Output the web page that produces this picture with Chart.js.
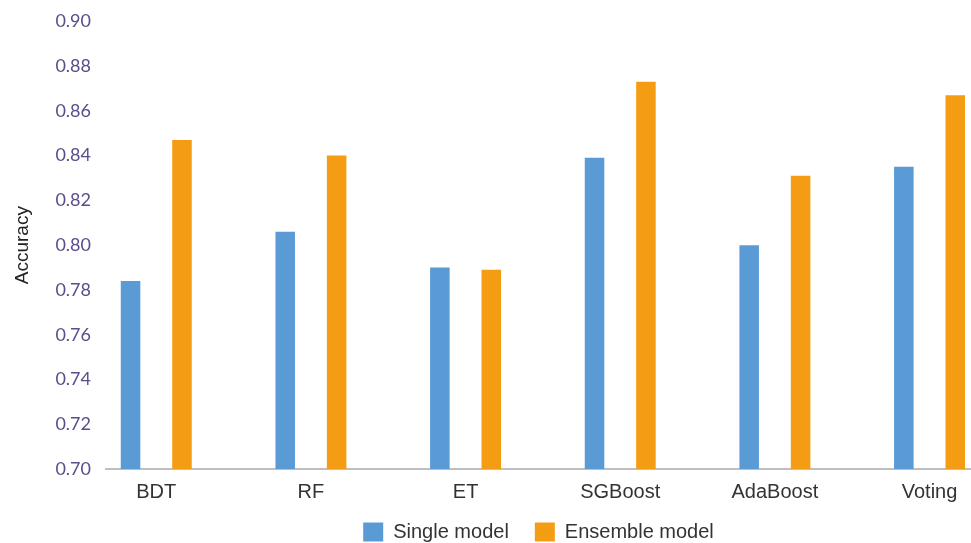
<!DOCTYPE html>
<html>
<head>
<meta charset="utf-8">
<script src="https://cdn.jsdelivr.net/npm/chart.js@4.4.0/dist/chart.umd.min.js"></script>
<style>
  html, body { margin: 0; padding: 0; background: #fff; overflow: hidden; }
  .chart { width: 971px; height: 552px; }
</style>
</head>
<body>
<div class="chart"><canvas id="chart"></canvas></div>
<script>
const models = ['BDT', 'RF', 'ET', 'SGBoost', 'AdaBoost', 'Voting'];
const singleModel = [0.784, 0.806, 0.790, 0.839, 0.800, 0.835];
const ensembleModel = [0.847, 0.840, 0.789, 0.873, 0.831, 0.867];
const yTicks = [0.70, 0.72, 0.74, 0.76, 0.78, 0.80, 0.82, 0.84, 0.86, 0.88, 0.90];

const toPoints = (values) => values.map((v, i) => ({ x: i, y: v }));

new Chart(document.getElementById('chart'), {
  type: 'bar',
  data: {
    datasets: [
      {
        label: 'Single model',
        data: toPoints(singleModel),
        backgroundColor: '#5b9bd5',
        categoryPercentage: 0.665,
        barPercentage: 0.38,
      },
      {
        label: 'Ensemble model',
        data: toPoints(ensembleModel),
        backgroundColor: '#f59c15',
        categoryPercentage: 0.665,
        barPercentage: 0.38,
      },
    ],
  },
  options: {
    responsive: true,
    maintainAspectRatio: false,
    animation: false,
    layout: { padding: { top: 0, right: 0 } },
    scales: {
      x: {
        type: 'linear',
        offset: false,
        min: -0.325,
        max: 5.268,
        grid: { display: false, drawTicks: false },
        border: { display: true, color: '#bfbfbf', width: 2 },
        afterBuildTicks: (scale) => {
          scale.ticks = models.map((m, i) => ({ value: i }));
        },
        ticks: {
          padding: 11,
          maxRotation: 0,
          color: '#333333',
          font: { family: 'Liberation Sans', size: 20 },
          callback: (value) => models[value] ?? '',
        },
      },
      y: {
        min: 0.70,
        max: 0.90,
        grid: { display: false, drawTicks: false },
        border: { display: false },
        afterFit: (scale) => { scale.width = 106; },
        afterBuildTicks: (scale) => {
          scale.ticks = yTicks.map((v) => ({ value: v }));
        },
        ticks: {
          padding: 15,
          color: '#5b4d8a',
          font: { family: 'Lato', size: 18, lineHeight: 0.7 },
          callback: (value) => value.toFixed(2),
        },
        title: {
          display: true,
          text: 'Accuracy',
          color: '#222222',
          padding: { top: 11, bottom: 0 },
          font: { family: 'Liberation Sans', size: 19 },
        },
      },
    },
    plugins: {
      legend: {
        position: 'bottom',
        fullSize: false,
        // empty title with negative padding pulls the items up closer to the axis labels
        title: {
          display: true,
          text: '',
          font: { size: 20, lineHeight: 0 },
          padding: { top: -19, bottom: 0 },
        },
        labels: {
          boxWidth: 20,
          boxHeight: 19,
          padding: 26,
          color: '#333333',
          font: { family: 'Liberation Sans', size: 20 },
        },
      },
      tooltip: { enabled: false },
    },
  },
});
</script>
</body>
</html>
